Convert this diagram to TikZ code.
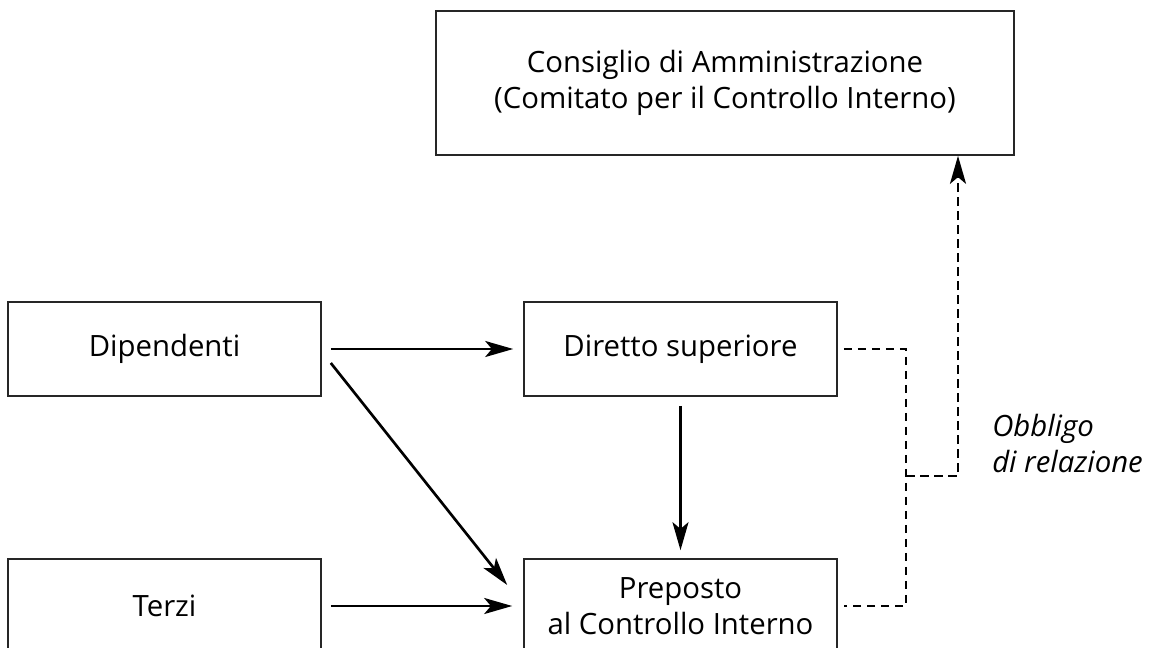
\documentclass[tikz,border=0pt]{standalone}
\usepackage{fontspec}
\setmainfont{Open Sans}
\usetikzlibrary{arrows.meta,calc}
\tikzset{
  box/.style={draw=black!85, line width=1.2pt, rectangle, inner sep=0pt,
    minimum width=234.75pt, minimum height=70.5pt, align=center,
    font=\fontsize{22}{27}\selectfont},
  tip/.style={-{Stealth[length=21pt,width=12pt,inset=5pt]}},
  arr/.style={line width=2pt, tip},
  dsh/.style={line width=2pt, dash pattern=on 6.5pt off 4pt},
}
\begin{document}
\begin{tikzpicture}[x=0.75pt,y=-0.75pt]
\useasboundingbox (0,0) rectangle (1161,647);
\node[box, minimum width=433.5pt, minimum height=108pt] (top) at (725,83)
  {Consiglio di Amministrazione\\(Comitato per il Controllo Interno)};
\node[box] (dip) at (164.5,349) {Dipendenti};
\node[box] (ter) at (164.5,606) {Terzi};
\node[box] (dir) at (680.5,349) {Diretto superiore};
\node[box] (pre) at (680.5,606) {Preposto\\al Controllo Interno};
% solid arrows
\draw[arr] ($(dip.east)+(9,0)$) -- ($(dir.west)+(-10,0)$);
\draw[arr] ($(dip.east)+(9,14)$) -- ($(pre.west)+(-16,-21)$);
\draw[arr] ($(ter.east)+(9,0)$) -- ($(pre.west)+(-11,0)$);
\draw[arr] ($(dir.south)+(0,9)$) -- ($(pre.north)+(0,-8)$);
% dashed reporting lines
\coordinate (j) at (906,476);
\coordinate (k) at (958,476);
\draw[dsh] ($(dir.east)+(6,0)$) -| (j) |- ($(pre.east)+(6,0)$);
\draw[dsh, tip] (j) -- (k) -- (k |- top.south);
\node[anchor=base west, inner sep=0pt, align=left,
  font=\fontsize{22}{27}\selectfont\itshape] (lab) at (992,472)
  {Obbligo\\di relazione};
\end{tikzpicture}
\end{document}
